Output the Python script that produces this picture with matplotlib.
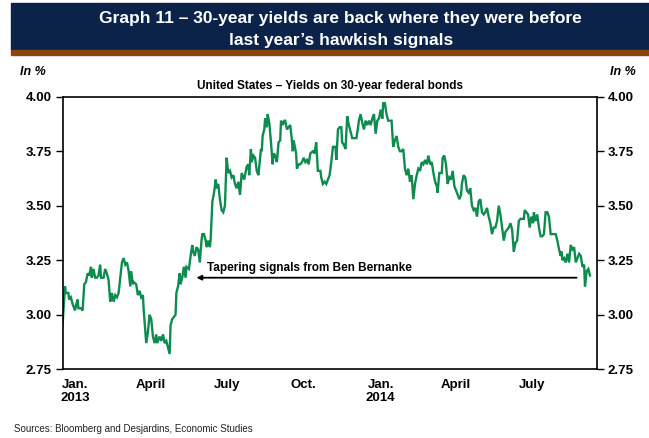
import numpy as np
import pandas as pd
import matplotlib
matplotlib.use("Agg")
import matplotlib.pyplot as plt
from matplotlib.patches import Rectangle

plt.rcParams["font.family"] = ["Liberation Sans", "DejaVu Sans"]

# ── Data: US 30-year federal bond yield (%) ──────────────
start = pd.Timestamp("2013-01-01")
day_offset = [
    0, 3, 4, 7, 8, 10, 12, 15, 16, 18, 19, 22, 24, 26, 28, 30, 32, 34, 35, 37,
    39, 41, 43, 45, 46, 49, 51, 53, 55, 57, 59, 61, 63, 65, 67, 69, 71, 73, 75, 77,
    79, 81, 82, 84, 85, 88, 90, 92, 94, 96, 97, 100, 102, 104, 106, 108, 110, 112, 113, 116,
    118, 120, 122, 124, 128, 129, 131, 133, 135, 136, 138, 140, 141, 143, 145, 147, 148, 151, 153, 155,
    156, 158, 160, 162, 164, 166, 167, 169, 171, 172, 174, 176, 177, 179, 181, 183, 184, 186, 188, 190,
    192, 194, 196, 198, 200, 202, 204, 206, 208, 210, 212, 214, 215, 217, 220, 222, 223, 225, 226, 228,
    230, 232, 234, 237, 238, 239, 241, 242, 244, 245, 247, 249, 251, 252, 254, 256, 258, 260, 261, 263,
    265, 266, 268, 270, 272, 274, 275, 276, 279, 280, 282, 284, 286, 288, 290, 292, 294, 296, 299, 301,
    303, 305, 308, 309, 311, 313, 315, 317, 319, 321, 323, 326, 327, 329, 331, 333, 334, 336, 338, 340,
    342, 344, 346, 348, 351, 353, 354, 356, 358, 360, 362, 364, 366, 368, 370, 372, 374, 376, 378, 380,
    382, 383, 385, 387, 389, 391, 393, 395, 397, 399, 401, 403, 405, 407, 409, 411, 413, 415, 417, 419,
    421, 423, 425, 427, 429, 431, 433, 435, 437, 439, 441, 443, 445, 447, 448, 450, 453, 454, 456, 458,
    460, 462, 464, 466, 468, 470, 472, 474, 476, 477, 479, 481, 483, 485, 487, 489, 491, 493, 495, 497,
    499, 501, 503, 505, 507, 509, 511, 513, 515, 517, 519, 521, 523, 525, 527, 529, 531, 533, 535, 537,
    539, 541, 543, 545, 547, 549, 551, 552, 554, 556, 558, 560, 562, 563, 565, 567, 569, 571, 573, 575,
    577, 579, 581, 583, 585, 587, 589, 591, 593, 595, 596, 597, 599, 601, 603, 605, 607, 609, 611, 613,
    615, 617, 619, 621, 623, 624, 626, 628, 630,
]
yield_30y = [
    2.95, 3.13, 3.10, 3.10, 3.07, 3.08, 3.05, 3.02, 3.04, 3.07, 3.03, 3.03, 3.02, 3.14, 3.15, 3.19, 3.18, 3.22, 3.17, 3.21,
    3.17, 3.17, 3.18, 3.23, 3.17, 3.17, 3.21, 3.19, 3.16, 3.06, 3.10, 3.06, 3.09, 3.08, 3.10, 3.17, 3.24, 3.26, 3.23, 3.24,
    3.20, 3.13, 3.20, 3.14, 3.15, 3.14, 3.09, 3.11, 3.08, 3.09, 3.02, 2.87, 2.92, 3.00, 2.98, 2.90, 2.87, 2.91, 2.87, 2.90,
    2.88, 2.91, 2.87, 2.88, 2.82, 2.95, 2.98, 2.99, 3.00, 3.10, 3.13, 3.19, 3.14, 3.17, 3.22, 3.17, 3.22, 3.21, 3.27, 3.32,
    3.29, 3.27, 3.31, 3.30, 3.24, 3.34, 3.37, 3.37, 3.34, 3.31, 3.34, 3.31, 3.35, 3.52, 3.56, 3.62, 3.58, 3.60, 3.53, 3.48,
    3.47, 3.50, 3.72, 3.65, 3.66, 3.63, 3.64, 3.60, 3.58, 3.61, 3.55, 3.65, 3.64, 3.62, 3.68, 3.69, 3.64, 3.76, 3.70, 3.73,
    3.72, 3.66, 3.64, 3.76, 3.75, 3.82, 3.85, 3.90, 3.86, 3.92, 3.88, 3.79, 3.69, 3.74, 3.73, 3.70, 3.79, 3.80, 3.89, 3.87,
    3.89, 3.89, 3.85, 3.86, 3.87, 3.80, 3.75, 3.80, 3.74, 3.67, 3.69, 3.69, 3.70, 3.72, 3.70, 3.71, 3.69, 3.74, 3.75, 3.74,
    3.79, 3.66, 3.66, 3.63, 3.60, 3.61, 3.60, 3.62, 3.64, 3.70, 3.77, 3.77, 3.71, 3.85, 3.86, 3.86, 3.79, 3.78, 3.76, 3.91,
    3.87, 3.84, 3.81, 3.81, 3.81, 3.86, 3.89, 3.92, 3.88, 3.85, 3.89, 3.87, 3.89, 3.87, 3.90, 3.92, 3.83, 3.89, 3.90, 3.94,
    3.90, 3.97, 3.97, 3.92, 3.89, 3.89, 3.89, 3.77, 3.80, 3.82, 3.77, 3.75, 3.75, 3.76, 3.67, 3.64, 3.67, 3.61, 3.64, 3.53,
    3.60, 3.64, 3.67, 3.66, 3.70, 3.69, 3.71, 3.69, 3.73, 3.69, 3.70, 3.65, 3.61, 3.59, 3.56, 3.65, 3.65, 3.72, 3.73, 3.69,
    3.60, 3.63, 3.62, 3.66, 3.59, 3.57, 3.55, 3.53, 3.55, 3.60, 3.64, 3.63, 3.57, 3.56, 3.58, 3.50, 3.48, 3.49, 3.45, 3.52,
    3.53, 3.47, 3.46, 3.47, 3.49, 3.45, 3.42, 3.37, 3.40, 3.40, 3.43, 3.50, 3.46, 3.40, 3.34, 3.38, 3.39, 3.40, 3.42, 3.39,
    3.29, 3.33, 3.34, 3.43, 3.44, 3.44, 3.44, 3.48, 3.47, 3.46, 3.40, 3.45, 3.42, 3.47, 3.43, 3.46, 3.40, 3.36, 3.36, 3.37,
    3.47, 3.47, 3.45, 3.37, 3.37, 3.37, 3.37, 3.34, 3.30, 3.27, 3.29, 3.25, 3.26, 3.24, 3.28, 3.24, 3.32, 3.30, 3.31, 3.24,
    3.26, 3.28, 3.27, 3.22, 3.23, 3.13, 3.20, 3.21, 3.18,
]
dates = start + pd.to_timedelta(day_offset, unit="D")

# month labels sit at mid-month under the axis
tick_dates = pd.to_datetime(["2013-01-16", "2013-04-16", "2013-07-16", "2013-10-16",
                             "2014-01-16", "2014-04-16", "2014-07-16"])
tick_labels = ["Jan.\n2013", "April", "July", "Oct.", "Jan.\n2014", "April", "July"]
y_ticks = [2.75, 3.00, 3.25, 3.50, 3.75, 4.00]

NAVY = "#0B2348"
BROWN = "#8A4510"
GREEN = "#0E8C50"

fig = plt.figure(figsize=(6.49, 4.38), dpi=100)

# ── Header banner ─────────────────────────────
fig.patches.append(Rectangle((11 / 649, 1 - 50 / 438), 1, 47 / 438,
                             transform=fig.transFigure, color=NAVY, zorder=0))
fig.patches.append(Rectangle((11 / 649, 1 - 54.5 / 438), 1, 4.5 / 438,
                             transform=fig.transFigure, color=BROWN, zorder=0))
fig.text(0.525, 1 - 29.5 / 438,
         "Graph 11 – 30-year yields are back where they were before\nlast year’s hawkish signals",
         color="white", fontsize=12.5, fontweight="bold", ha="center", va="center",
         linespacing=1.5)

# ── Main axes ─────────────────────────────────
ax = fig.add_axes([62.5 / 649, 68.7 / 438, 534.2 / 649, 272.6 / 438])
ax.plot(dates, yield_30y, color=GREEN, linewidth=1.7, solid_joinstyle="miter")

ax.set_xlim(pd.Timestamp("2013-01-01"), pd.Timestamp("2014-10-01"))
ax.set_ylim(2.75, 4.00)
ax.set_yticks(y_ticks)
ax.set_yticklabels([f"{v:.2f}" for v in y_ticks], fontsize=9.5, fontweight="bold")
ax.tick_params(axis="y", which="both", direction="out", length=5, width=1,
               left=True, right=True, labelleft=True, labelright=True, pad=3)
ax.set_xticks(tick_dates)
ax.set_xticklabels(tick_labels, fontsize=9.5, fontweight="bold", linespacing=1.15)
ax.tick_params(axis="x", length=0, pad=7)
for s in ax.spines.values():
    s.set_linewidth(1.2)
    s.set_color("black")

# Bernanke tapering annotation
ax.annotate("", xy=(pd.Timestamp("2013-06-10"), 3.17),
            xytext=(pd.Timestamp("2014-09-07"), 3.17),
            arrowprops=dict(arrowstyle="-|>", color="black", lw=1.3,
                            mutation_scale=7, shrinkA=0, shrinkB=0))
ax.text(pd.Timestamp("2013-06-22"), 3.185, "Tapering signals from Ben Bernanke",
        fontsize=8.5, fontweight="bold", ha="left", va="bottom")

fig.text(20 / 649, 1 - 72 / 438, "In %", fontsize=9, fontweight="bold",
         style="italic", ha="left", va="center")
fig.text(636 / 649, 1 - 72 / 438, "In %", fontsize=9, fontweight="bold",
         style="italic", ha="right", va="center")
fig.text(330 / 649, 1 - 86 / 438, "United States – Yields on 30-year federal bonds",
         fontsize=8.5, fontweight="bold", ha="center", va="center")
fig.text(14 / 649, 1 - 429 / 438, "Sources: Bloomberg and Desjardins, Economic Studies",
         fontsize=7, color="#222222", ha="left", va="center")

fig.savefig("out.png", dpi=100)
